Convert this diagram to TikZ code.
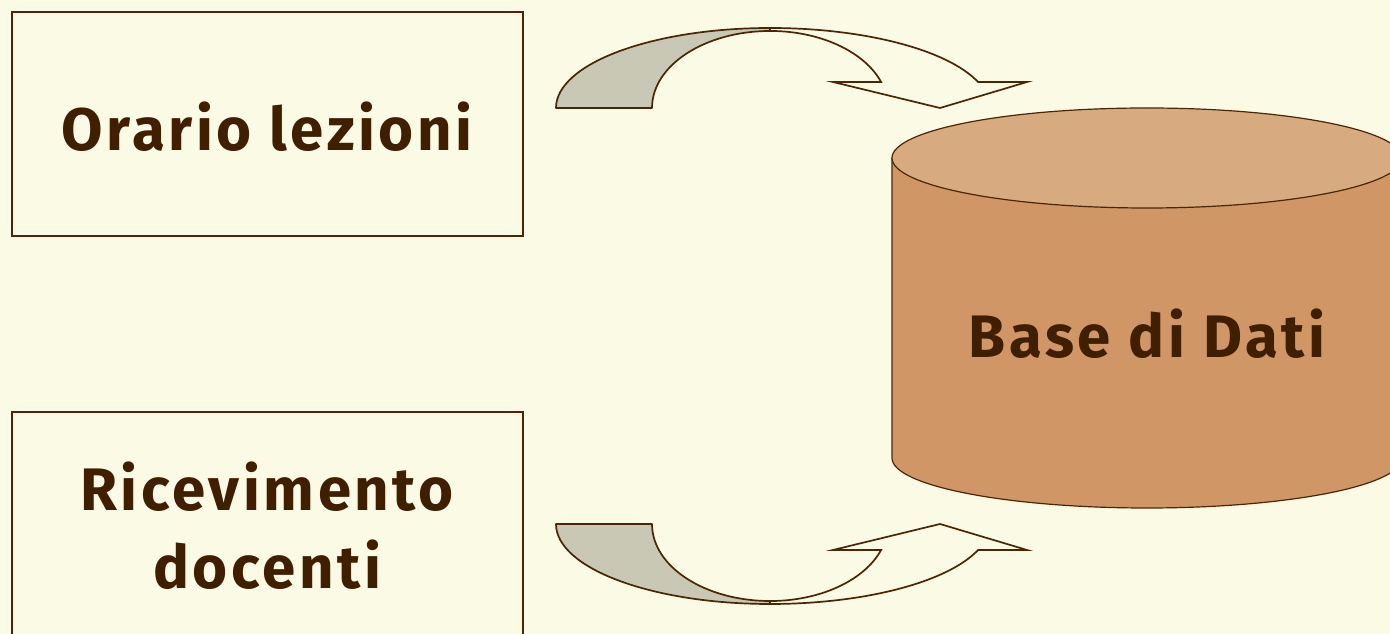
\documentclass[tikz,border=0pt]{standalone}
\usepackage{fontspec}
\setmainfont{Fira Sans}[LetterSpace=6]
\definecolor{bg}{RGB}{251,250,228}
\definecolor{ln}{RGB}{74,38,6}
\definecolor{txt}{RGB}{64,30,0}
\definecolor{shade}{RGB}{200,200,180}
\definecolor{cylside}{RGB}{208,150,102}
\definecolor{cyltop}{RGB}{216,170,128}
\tikzset{
  box/.style={draw=ln, line width=1.2pt, fill=bg},
  lbl/.style={text=txt, font=\bfseries\fontsize{60}{78}\selectfont, align=center},
  back/.style={draw=ln, line width=1.7pt, fill=shade, line join=round},
  front/.style={draw=ln, line width=1.7pt, fill=bg, line join=miter},
}
\begin{document}
\begin{tikzpicture}[x=1pt,y=1pt]
\useasboundingbox (0,0) rectangle (1390,634);
\fill[bg] (0,0) rectangle (1390,634);
\begin{scope}
\clip (0,0) rectangle (1390,634);
% boxes
\draw[box] (12,398) rectangle (523,622);
\node[lbl] (orario) at (267,507) {Orario lezioni};
\draw[box] (12,-2) rectangle (523,222);
\node[lbl] (ricev) at (267,108) {Ricevimento\\docenti};
% cylinder
\draw[draw=ln, line width=1.2pt, fill=cylside] (892,476) -- (892,176) arc[start angle=180, end angle=360, x radius=255pt, y radius=50pt] -- (1402,476) -- cycle;
\draw[draw=ln, line width=1.2pt, fill=cyltop] (1147,476) ellipse [x radius=255pt, y radius=50pt];
\node[lbl] (db) at (1147,300) {Base di Dati};
% top curved arrow
\draw[back] (556,526) arc[start angle=180, end angle=90, x radius=214pt, y radius=80pt]
  -- (770,603) arc[start angle=90, end angle=180, x radius=118pt, y radius=77pt] -- cycle;
\draw[front] (770,606) arc[start angle=90, end angle=19, x radius=220pt, y radius=80pt]
  -- (1027,552) -- (940,526) -- (833,552) -- (881.1,552)
  arc[start angle=19.7, end angle=90, x radius=118pt, y radius=77pt] -- cycle;
% bottom curved arrow
\draw[back] (556,110) arc[start angle=180, end angle=270, x radius=214pt, y radius=80pt]
  -- (770,33) arc[start angle=270, end angle=180, x radius=118pt, y radius=77pt] -- cycle;
\draw[front] (770,30) arc[start angle=270, end angle=341, x radius=220pt, y radius=80pt]
  -- (1027,84) -- (940,110) -- (833,84) -- (881.1,84)
  arc[start angle=-19.7, end angle=-90, x radius=118pt, y radius=77pt] -- cycle;
\end{scope}
\end{tikzpicture}
\end{document}
